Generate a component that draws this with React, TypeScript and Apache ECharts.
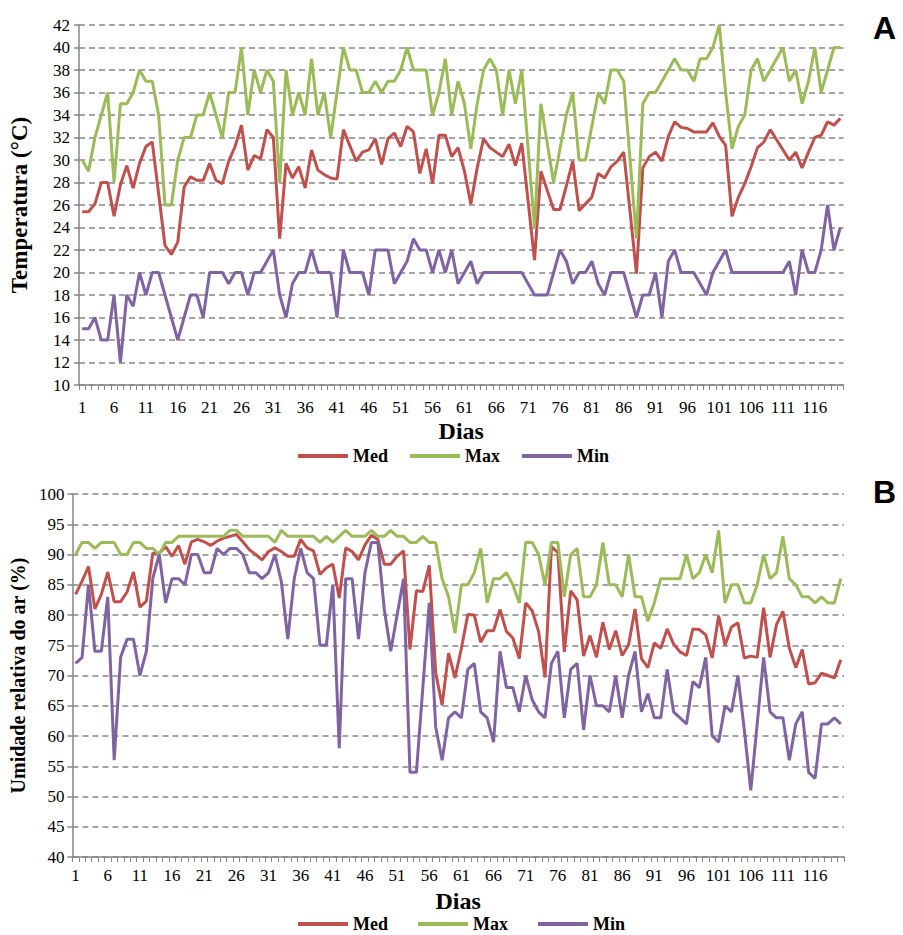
import React, { useEffect, useRef } from 'react';
import * as echarts from 'echarts';

const days: string[] = Array.from({ length: 120 }, (_, i) => String(i + 1));

// Panel A: temperature (°C)
const tMed = [
  25.4, 25.4, 26.1, 28, 28, 25, 27.8, 29.5, 27.5, 29.7,
  31.2, 31.6, 27, 22.4, 21.6, 22.7, 27.6, 28.5, 28.2, 28.2,
  29.7, 28.2, 27.9, 29.9, 31.2, 33.1, 29.1, 30.4, 30.1, 32.7,
  32.0, 23.0, 29.7, 28.4, 29.4, 27.5, 30.9, 29.1, 28.7, 28.4,
  28.3, 32.7, 31.3, 29.9, 30.7, 30.9, 31.9, 29.6, 31.9, 32.4,
  31.2, 33.0, 32.5, 28.8, 31.0, 27.9, 32.2, 32.2, 30.3, 31.1,
  29, 26.1, 29.3, 31.9, 31.1, 30.7, 30.3, 31.4, 29.5, 31.5,
  26.3, 21.1, 29.0, 27.3, 25.6, 25.6, 27.7, 29.9, 25.5, 26.1,
  26.7, 28.8, 28.4, 29.4, 29.9, 30.7, 25.4, 19.9, 29.3, 30.3,
  30.7, 29.9, 32.1, 33.4, 32.9, 32.8, 32.5, 32.5, 32.5, 33.3,
  32.1, 31.3, 25.0, 26.7, 27.9, 29.4, 31.1, 31.6, 32.7, 31.8,
  30.9, 30.0, 30.7, 29.3, 30.7, 32.0, 32.2, 33.4, 33.1, 33.7,
];
const tMax = [
  30, 29, 32, 34, 36, 28, 35, 35, 36, 38,
  37, 37, 34, 26, 26, 30, 32, 32, 34, 34,
  36, 34, 32, 36, 36, 40, 34, 38, 36, 38,
  37, 28, 38, 34, 36, 34, 39, 34, 36, 32,
  36, 40, 38, 38, 36, 36, 37, 36, 37, 37,
  38, 40, 38, 38, 38, 34, 36, 39, 34, 37,
  35, 31, 35, 38, 39, 38, 34, 38, 35, 38,
  31, 24, 35, 31.5, 28, 31, 34, 36, 30, 30,
  33, 36, 35, 38, 38, 37, 30, 23, 35, 36,
  36, 37, 38, 39, 38, 38, 37, 39, 39, 40,
  42, 36, 31, 33, 34, 38, 39, 37, 38, 39,
  40, 37, 38, 35, 37, 40, 36, 38, 40, 40,
];
const tMin = [
  15, 15, 16, 14, 14, 18, 12, 18, 17, 20,
  18, 20, 20, 18, 16, 14, 16, 18, 18, 16,
  20, 20, 20, 19, 20, 20, 18, 20, 20, 21,
  22, 18, 16, 19, 20, 20, 22, 20, 20, 20,
  16, 22, 20, 20, 20, 18, 22, 22, 22, 19,
  20, 21, 23, 22, 22, 20, 22, 20, 22, 19,
  20, 21, 19, 20, 20, 20, 20, 20, 20, 20,
  19, 18, 18, 18, 20, 22, 21, 19, 20, 20,
  21, 19, 18, 20, 20, 20, 18, 16, 18, 18,
  20, 16, 21, 22, 20, 20, 20, 19, 18, 20,
  21, 22, 20, 20, 20, 20, 20, 20, 20, 20,
  20, 21, 18, 22, 20, 20, 22, 26, 22, 24,
];

// Panel B: relative humidity (%)
const hMed = [
  83.4, 85.6, 88, 81, 83.4, 87.1, 82.2, 82.2, 83.8, 87.1,
  81.3, 82.3, 90.2, 90.2, 91.3, 89.7, 91.5, 88.4, 92.1, 92.5,
  92.1, 91.5, 92.2, 92.7, 93, 93.3, 92.1, 90.8, 90, 89.1,
  90.5, 91.1, 90.5, 89.7, 89.7, 92.5, 91.1, 90.6, 86.7, 87.8,
  88.4, 82.8, 91.1, 90.5, 89.1, 91.6, 93.2, 92.5, 88.4, 88.4,
  89.7, 90.6, 74.3, 84, 83.9, 88.2, 70.4, 65.1, 73.7, 69.6,
  74.5, 80.1, 80, 75.5, 77.4, 77.4, 80.9, 77.3, 76.2, 72.8,
  82, 80.7, 77.3, 69.7, 91.3, 90.3, 73.9, 84, 82.5, 73.2,
  76.6, 73, 78.8, 74.3, 77.4, 73.3, 75.1, 81, 72.8, 71.3,
  75.4, 74.5, 77.7, 75.2, 73.9, 73.3, 77.7, 77.6, 76.7, 72.9,
  79.9, 75, 78, 78.7, 72.9, 73.2, 73, 81.2, 73, 78.4,
  80.6, 74.5, 71.3, 74.3, 68.6, 68.8, 70.4, 70, 69.6, 72.6,
];
const hMax = [
  90, 92, 92, 91, 92, 92, 92, 90, 90, 92,
  92, 91, 91, 90, 92, 92, 93, 93, 93, 93,
  93, 93, 93, 93, 94, 94, 93, 93, 93, 93,
  93, 92, 94, 93, 93, 93, 93, 93, 92, 93,
  92, 93, 94, 93, 93, 93, 94, 93, 93, 94,
  93, 93, 92, 92, 93, 92, 92, 86, 83, 77,
  85, 85, 87, 91, 82, 86, 86, 87, 85, 82,
  92, 92, 90, 85, 92, 92, 83, 90, 91, 83,
  83, 85, 92, 85, 85, 83, 90, 83, 83, 79,
  82, 86, 86, 86, 86, 90, 86, 87, 90, 87,
  94, 82, 85, 85, 82, 82, 85, 90, 86, 87,
  93, 86, 85, 83, 83, 82, 83, 82, 82, 86,
];
const hMin = [
  72, 73, 85, 74, 74, 83, 56, 73, 76, 76,
  70, 74, 86, 90, 82, 86, 86, 85, 90, 90,
  87, 87, 91, 90, 91, 91, 90, 87, 87, 86,
  87, 90, 85.5, 76, 86, 91, 87, 86, 75, 75,
  85, 58, 86, 86, 76, 87, 92, 92, 81, 74,
  80, 86, 54, 54, 68, 82, 61.5, 56, 63, 64,
  63, 71, 72, 64, 63, 59, 74, 68, 68, 64,
  70, 66, 64, 63, 72, 74, 63, 71, 72, 61,
  70, 65, 65, 64, 70, 63, 70, 74, 64, 67,
  63, 63, 71, 64, 63, 62, 69, 68, 73, 60,
  59, 65, 64, 70, 61, 51, 62, 73, 64, 63,
  63, 56, 62, 64, 54, 53, 62, 62, 63, 62,
];

const RED = '#C0504D';
const GREEN = '#9BBB59';
const PURPLE = '#8064A2';
const SERIF = 'Liberation Serif';
const SANS = 'Liberation Sans';
const GRAY = '#868686';

export default function App() {
  const ref = useRef<HTMLDivElement>(null);
  useEffect(() => {
    if (!ref.current) return;
    const chart = echarts.init(ref.current, undefined, { renderer: 'svg' });
    const xAxisBase = (grid: number, margin: number, nameGap: number) => ({
      type: 'category',
      gridIndex: grid,
      data: days,
      boundaryGap: true,
      axisLine: { lineStyle: { color: GRAY, width: 1.5 } },
      axisTick: { show: true, interval: 0, length: 5, lineStyle: { color: GRAY, width: 1 } },
      axisLabel: { interval: 4, color: '#000', fontFamily: SERIF, fontSize: 17, margin },
      name: 'Dias',
      nameLocation: 'middle',
      nameGap,
      nameTextStyle: { fontFamily: SERIF, fontWeight: 'bold', fontSize: 24, color: '#000' },
    });
    const yAxisBase = (grid: number, min: number, max: number, interval: number, name: string, nameGap: number, nameSize: number, margin: number) => ({
      type: 'value',
      gridIndex: grid,
      min,
      max,
      interval,
      axisLine: { show: true, lineStyle: { color: GRAY, width: 1.5 } },
      axisTick: { show: true, length: 5, lineStyle: { color: GRAY, width: 1.5 } },
      axisLabel: { color: '#000', fontFamily: SERIF, fontSize: 17, margin },
      splitLine: { show: true, lineStyle: { color: GRAY, width: 1.5, type: [6, 4] } },
      name,
      nameLocation: 'middle',
      nameRotate: 90,
      nameGap,
      nameTextStyle: { fontFamily: SERIF, fontWeight: 'bold', fontSize: nameSize, color: '#000' },
    });
    const line = (name: string, data: number[], color: string, idx: number) => ({
      name,
      type: 'line',
      xAxisIndex: idx,
      yAxisIndex: idx,
      data,
      symbol: 'none',
      lineStyle: { width: 3, color },
      itemStyle: { color },
    });
    const legendBase = (top: number, left: number, gap: number) => ({
      data: ['Med', 'Max', 'Min'],
      top,
      left,
      icon: 'rect',
      itemWidth: 50,
      itemHeight: 4,
      itemGap: gap,
      padding: 0,
      textStyle: { fontFamily: SERIF, fontWeight: 'bold', fontSize: 18, color: '#000' },
    });
    chart.setOption({
      animation: false,
      backgroundColor: '#fff',
      grid: [
        { left: 78.5, top: 25, width: 765, height: 360 },
        { left: 71.5, top: 494, width: 772.5, height: 363 },
      ],
      xAxis: [xAxisBase(0, 14, 34), xAxisBase(1, 10, 32)],
      yAxis: [
        yAxisBase(0, 10, 42, 2, 'Temperatura (°C)', 48, 23, 9),
        yAxisBase(1, 40, 100, 5, 'Umidade relativa do ar (%)', 40, 20, 8),
      ],
      legend: [legendBase(447, 298, 22), legendBase(915, 298, 30)],
      graphic: [
        { type: 'text', left: 873, top: 12, style: { text: 'A', fontFamily: SANS, fontWeight: 'bold', fontSize: 32, fill: '#000' } },
        { type: 'text', left: 873, top: 476, style: { text: 'B', fontFamily: SANS, fontWeight: 'bold', fontSize: 32, fill: '#000' } },
      ],
      series: [
        line('Med', tMed, RED, 0),
        line('Max', tMax, GREEN, 0),
        line('Min', tMin, PURPLE, 0),
        line('Med', hMed, RED, 1),
        line('Max', hMax, GREEN, 1),
        line('Min', hMin, PURPLE, 1),
      ],
    });
    return () => chart.dispose();
  }, []);
  return (
    <div
      ref={ref}
      style={{ position: 'fixed', left: 0, top: 0, width: 903, height: 935, background: '#fff' }}
    />
  );
}
